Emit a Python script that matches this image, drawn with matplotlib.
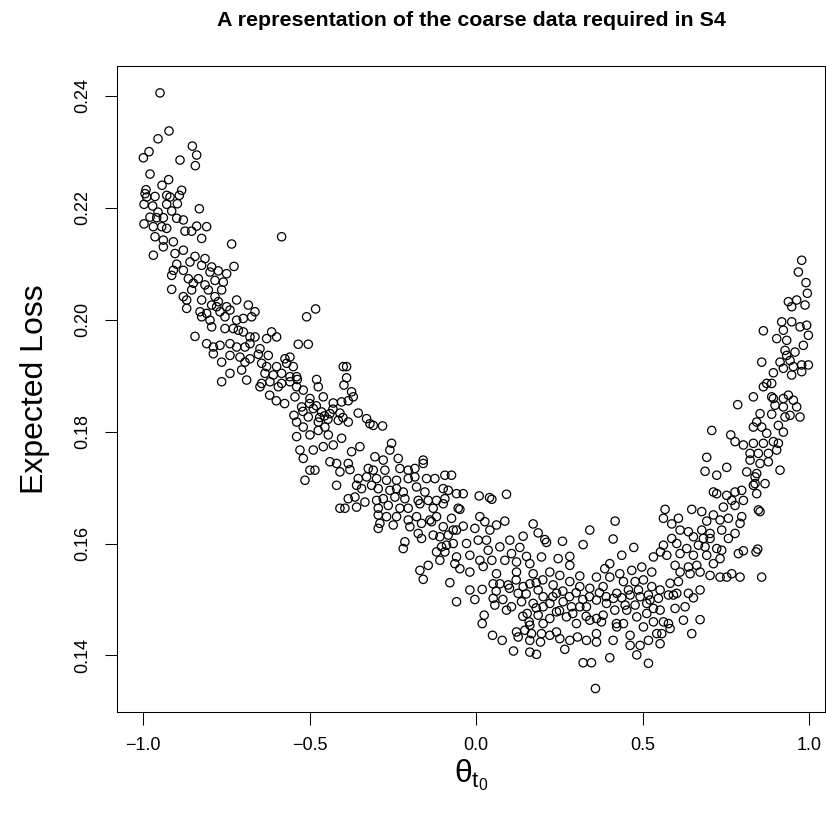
import numpy as np
import matplotlib
matplotlib.use("Agg")
import matplotlib.pyplot as plt

plt.rcParams['font.family'] = ['Liberation Sans', 'DejaVu Sans']
plt.rcParams['mathtext.fontset'] = 'custom'
plt.rcParams['mathtext.rm'] = 'Liberation Sans'
plt.rcParams['mathtext.it'] = 'Liberation Sans'

# (theta_t0, expected loss) pairs, grouped by region of the curve
upper_left = [
    (-0.949, 0.2405), (-0.922, 0.2337), (-0.955, 0.2323), (-0.982, 0.2300), (-0.999, 0.2289),
    (-0.852, 0.2310), (-0.839, 0.2294), (-0.843, 0.2275), (-0.889, 0.2285), (-0.979, 0.2260),
    (-0.923, 0.2250), (-0.943, 0.2240), (-0.884, 0.2231), (-0.991, 0.2232), (-0.994, 0.2225),
    (-0.989, 0.2219), (-0.964, 0.2220), (-0.929, 0.2222), (-0.919, 0.2219), (-0.891, 0.2222),
    (-0.997, 0.2206), (-0.971, 0.2203), (-0.929, 0.2206), (-0.897, 0.2207), (-0.831, 0.2198),
    (-0.955, 0.2192), (-0.914, 0.2194), (-0.979, 0.2183), (-0.959, 0.2182), (-0.939, 0.2182),
    (-0.899, 0.2181), (-0.879, 0.2178), (-0.997, 0.2171), (-0.969, 0.2166), (-0.944, 0.2166),
    (-0.929, 0.2163), (-0.839, 0.2167), (-0.809, 0.2166), (-0.874, 0.2158), (-0.854, 0.2158),
    (-0.584, 0.2148), (-0.964, 0.2148), (-0.824, 0.2145),
    (-0.734, 0.2135), (-0.939, 0.2142), (-0.909, 0.2139), (-0.939, 0.2130), (-0.969, 0.2115),
    (-0.904, 0.2118), (-0.879, 0.2124), (-0.844, 0.2113), (-0.814, 0.2109), (-0.859, 0.2103),
    (-0.899, 0.2099), (-0.824, 0.2097), (-0.794, 0.2094), (-0.727, 0.2095), (-0.909, 0.2088),
    (-0.879, 0.2088), (-0.799, 0.2085), (-0.774, 0.2087), (-0.749, 0.2082), (-0.914, 0.2079),
    (-0.864, 0.2073), (-0.834, 0.2073), (-0.784, 0.2070), (-0.759, 0.2067), (-0.849, 0.2065),
    (-0.814, 0.2062), (-0.914, 0.2054), (-0.854, 0.2053), (-0.804, 0.2053), (-0.764, 0.2053),
    (-0.879, 0.2041), (-0.869, 0.2035), (-0.824, 0.2035), (-0.784, 0.2041), (-0.774, 0.2032),
    (-0.719, 0.2035), (-0.794, 0.2026), (-0.779, 0.2023), (-0.749, 0.2023), (-0.684, 0.2026),
    (-0.869, 0.2020), (-0.829, 0.2014), (-0.809, 0.2011), (-0.769, 0.2014), (-0.739, 0.2017),
    (-0.664, 0.2014), (-0.824, 0.2005), (-0.799, 0.1999), (-0.754, 0.2005), (-0.719, 0.1999),
    (-0.699, 0.2002), (-0.674, 0.2005), (-0.794, 0.1987), (-0.754, 0.1984), (-0.729, 0.1984),
    (-0.714, 0.1981), (-0.699, 0.1978), (-0.679, 0.1969), (-0.664, 0.1969), (-0.629, 0.1966),
    (-0.614, 0.1978), (-0.599, 0.1969), (-0.844, 0.1970), (-0.809, 0.1957), (-0.789, 0.1951),
    (-0.769, 0.1954), (-0.739, 0.1957), (-0.719, 0.1951), (-0.694, 0.1951), (-0.679, 0.1957),
    (-0.649, 0.1948), (-0.789, 0.1939), (-0.739, 0.1936), (-0.709, 0.1933), (-0.679, 0.1930),
    (-0.654, 0.1938), (-0.624, 0.1936), (-0.574, 0.1930), (-0.559, 0.1933),
    (-0.764, 0.1924), (-0.694, 0.1924), (-0.644, 0.1922), (-0.629, 0.1916), (-0.599, 0.1916),
    (-0.569, 0.1922), (-0.549, 0.1916), (-0.704, 0.1910), (-0.739, 0.1904), (-0.634, 0.1904),
    (-0.609, 0.1901), (-0.584, 0.1904), (-0.559, 0.1898), (-0.539, 0.1898), (-0.764, 0.1889),
    (-0.689, 0.1892), (-0.644, 0.1886), (-0.619, 0.1889), (-0.584, 0.1886), (-0.559, 0.1889),
    (-0.649, 0.1880), (-0.594, 0.1880), (-0.539, 0.1880),
    (-0.620, 0.1865), (-0.600, 0.1855), (-0.575, 0.1850),
]

left_slope = [
    (-0.482, 0.2019), (-0.509, 0.2005), (-0.534, 0.1956), (-0.504, 0.1956),
    (-0.399, 0.1916), (-0.389, 0.1916), (-0.537, 0.1893), (-0.479, 0.1893), (-0.389, 0.1896),
    (-0.474, 0.1880), (-0.397, 0.1883), (-0.374, 0.1871), (-0.519, 0.1874), (-0.544, 0.1862),
    (-0.369, 0.1862), (-0.459, 0.1862), (-0.429, 0.1851), (-0.404, 0.1853), (-0.384, 0.1855),
    (-0.499, 0.1859), (-0.524, 0.1844), (-0.489, 0.1841), (-0.464, 0.1835), (-0.439, 0.1832),
    (-0.409, 0.1833), (-0.354, 0.1833), (-0.547, 0.1829), (-0.504, 0.1826), (-0.414, 0.1820),
    (-0.384, 0.1817), (-0.329, 0.1823), (-0.319, 0.1814), (-0.309, 0.1811), (-0.281, 0.1810),
    (-0.539, 0.1817), (-0.474, 0.1817), (-0.519, 0.1808), (-0.454, 0.1808),
    (-0.500, 0.1850), (-0.480, 0.1846), (-0.455, 0.1828), (-0.430, 0.1840), (-0.470, 0.1825),
    (-0.445, 0.1822), (-0.400, 0.1825), (-0.520, 0.1836),
]

middle = [
    (-0.539, 0.1791), (-0.499, 0.1794), (-0.474, 0.1802), (-0.444, 0.1794), (-0.404, 0.1788),
    (-0.529, 0.1767), (-0.489, 0.1767), (-0.459, 0.1773), (-0.429, 0.1776), (-0.374, 0.1764),
    (-0.349, 0.1773), (-0.254, 0.1779), (-0.259, 0.1767), (-0.519, 0.1752), (-0.439, 0.1746),
    (-0.419, 0.1743), (-0.384, 0.1743), (-0.304, 0.1755), (-0.279, 0.1749), (-0.234, 0.1752),
    (-0.159, 0.1749), (-0.484, 0.1731), (-0.499, 0.1731), (-0.409, 0.1728), (-0.379, 0.1732),
    (-0.324, 0.1734), (-0.309, 0.1731), (-0.274, 0.1731), (-0.229, 0.1734), (-0.204, 0.1731),
    (-0.184, 0.1734), (-0.159, 0.1743), (-0.514, 0.1713), (-0.419, 0.1704), (-0.354, 0.1716),
    (-0.329, 0.1719), (-0.299, 0.1716), (-0.269, 0.1713), (-0.239, 0.1713), (-0.204, 0.1716),
    (-0.184, 0.1719), (-0.149, 0.1716), (-0.124, 0.1716), (-0.094, 0.1722), (-0.359, 0.1704),
    (-0.344, 0.1698), (-0.314, 0.1704), (-0.294, 0.1698), (-0.259, 0.1695), (-0.239, 0.1698),
    (-0.219, 0.1692), (-0.179, 0.1701), (-0.154, 0.1692), (-0.099, 0.1698), (-0.084, 0.1695),
    (-0.059, 0.1689), (-0.384, 0.1680), (-0.364, 0.1683), (-0.334, 0.1674), (-0.299, 0.1677),
    (-0.279, 0.1680), (-0.244, 0.1683), (-0.214, 0.1680), (-0.174, 0.1677), (-0.144, 0.1677),
    (-0.119, 0.1677), (-0.094, 0.1680), (-0.409, 0.1663), (-0.394, 0.1663), (-0.359, 0.1665),
    (-0.294, 0.1663), (-0.264, 0.1668), (-0.229, 0.1663), (-0.204, 0.1663), (-0.169, 0.1671),
    (-0.129, 0.1663), (-0.099, 0.1671), (-0.054, 0.1663), (-0.294, 0.1651), (-0.269, 0.1648),
    (-0.239, 0.1648), (-0.204, 0.1642), (-0.179, 0.1648), (-0.139, 0.1642), (-0.119, 0.1648),
    (-0.074, 0.1645), (-0.294, 0.1627), (-0.289, 0.1636), (-0.249, 0.1633), (-0.199, 0.1630),
    (-0.164, 0.1636), (-0.134, 0.1639), (-0.099, 0.1630), (-0.069, 0.1624), (-0.174, 0.1618),
    (-0.164, 0.1609), (-0.129, 0.1615), (-0.109, 0.1612), (-0.084, 0.1615), (-0.059, 0.1624),
    (-0.214, 0.1603), (-0.219, 0.1591), (-0.104, 0.1594), (-0.089, 0.1597), (-0.069, 0.1600),
    (-0.119, 0.1585), (-0.094, 0.1585), (-0.059, 0.1576), (-0.109, 0.1570), (-0.064, 0.1564),
    (-0.169, 0.1552), (-0.144, 0.1561), (-0.159, 0.1536), (-0.079, 0.1530), (-0.074, 0.1722),
]

valley = [
    (0.091, 0.1688), (0.047, 0.1679), (0.040, 0.1682), (0.009, 0.1685), (-0.039, 0.1689),
    (-0.049, 0.1661), (0.011, 0.1648), (0.026, 0.1639), (0.086, 0.1640), (0.171, 0.1635),
    (0.186, 0.1619), (0.206, 0.1607), (0.211, 0.1602), (0.259, 0.1604), (0.321, 0.1598),
    (0.341, 0.1624), (0.417, 0.1640), (0.411, 0.1608), (-0.039, 0.1631),
    (-0.004, 0.1627), (0.041, 0.1624), (0.061, 0.1633), (0.101, 0.1606), (0.141, 0.1613),
    (0.071, 0.1594), (0.131, 0.1593), (0.031, 0.1606), (-0.029, 0.1600), (0.006, 0.1606),
    (-0.019, 0.1579), (0.036, 0.1588), (0.106, 0.1582), (0.151, 0.1577), (0.196, 0.1576),
    (0.246, 0.1573), (0.281, 0.1577), (0.011, 0.1570), (0.047, 0.1570), (0.086, 0.1570),
    (0.121, 0.1567), (0.161, 0.1564), (0.281, 0.1561), (0.401, 0.1564), (0.386, 0.1555),
    (-0.049, 0.1555), (-0.019, 0.1549), (0.021, 0.1559), (0.061, 0.1546), (0.121, 0.1549),
    (0.171, 0.1546), (0.221, 0.1549), (0.251, 0.1543), (0.311, 0.1542), (0.361, 0.1540),
    (0.431, 0.1546),
    (-0.059, 0.1496), (-0.019, 0.1517), (-0.004, 0.1500), (0.018, 0.1518), (0.024, 0.1472),
    (0.018, 0.1457), (0.049, 0.1436), (0.078, 0.1427), (0.112, 0.1408), (0.121, 0.1442),
    (0.126, 0.1433), (0.153, 0.1475), (0.159, 0.1460), (0.161, 0.1454), (0.161, 0.1427),
    (0.161, 0.1406), (0.181, 0.1402), (0.193, 0.1424), (0.166, 0.1439), (0.221, 0.1436),
    (0.251, 0.1430), (0.266, 0.1411), (0.304, 0.1433), (0.331, 0.1427), (0.321, 0.1387),
    (0.346, 0.1387), (0.358, 0.1341), (0.401, 0.1396), (0.411, 0.1427), (0.361, 0.1424),
    (0.281, 0.1427), (0.241, 0.1442), (0.196, 0.1439), (0.146, 0.1445), (0.106, 0.1487),
    (0.091, 0.1481), (0.056, 0.1490), (0.051, 0.1502), (0.051, 0.1528), (0.071, 0.1528),
    (0.096, 0.1526), (0.126, 0.1511), (0.136, 0.1496), (0.161, 0.1528), (0.141, 0.1523),
    (0.186, 0.1517), (0.171, 0.1493), (0.201, 0.1487), (0.221, 0.1493), (0.241, 0.1478),
    (0.221, 0.1466), (0.201, 0.1457), (0.186, 0.1472), (0.261, 0.1496), (0.271, 0.1469),
    (0.286, 0.1487), (0.301, 0.1457), (0.311, 0.1487), (0.331, 0.1487), (0.341, 0.1463),
    (0.361, 0.1466), (0.376, 0.1460), (0.361, 0.1439), (0.381, 0.1472), (0.421, 0.1457),
    (0.231, 0.1526), (0.281, 0.1532), (0.311, 0.1523), (0.341, 0.1520), (0.381, 0.1523),
    (0.401, 0.1540), (0.201, 0.1505), (0.241, 0.1511), (0.361, 0.1499), (0.391, 0.1493),
    (0.416, 0.1481),
    (0.100, 0.1520), (0.120, 0.1535), (0.150, 0.1510), (0.180, 0.1530), (0.200, 0.1535),
    (0.230, 0.1505), (0.260, 0.1515), (0.280, 0.1505), (0.300, 0.1512), (0.320, 0.1500),
    (0.340, 0.1505), (0.370, 0.1512), (0.390, 0.1505), (0.250, 0.1480), (0.290, 0.1475),
    (0.330, 0.1470), (0.180, 0.1485), (0.140, 0.1470), (0.060, 0.1515), (0.080, 0.1500),
]

right_rise = [
    (0.707, 0.1802), (0.764, 0.1794), (0.777, 0.1782), (0.802, 0.1776), (0.832, 0.1779),
    (0.692, 0.1754), (0.752, 0.1736), (0.687, 0.1729), (0.722, 0.1722), (0.812, 0.1728),
    (0.822, 0.1749), (0.822, 0.1761), (0.842, 0.1725), (0.712, 0.1692), (0.722, 0.1689),
    (0.752, 0.1686), (0.777, 0.1692), (0.797, 0.1695), (0.802, 0.1677), (0.767, 0.1677),
    (0.777, 0.1668), (0.742, 0.1665), (0.837, 0.1707), (0.842, 0.1689), (0.847, 0.1660),
    (0.567, 0.1661), (0.647, 0.1661), (0.677, 0.1657), (0.712, 0.1651), (0.562, 0.1645),
    (0.607, 0.1645), (0.587, 0.1635), (0.692, 0.1640), (0.732, 0.1642), (0.757, 0.1645),
    (0.797, 0.1648), (0.792, 0.1636), (0.612, 0.1624), (0.637, 0.1621), (0.677, 0.1624),
    (0.702, 0.1618), (0.737, 0.1624), (0.757, 0.1609), (0.777, 0.1618),
    (0.587, 0.1609), (0.652, 0.1612), (0.682, 0.1609), (0.702, 0.1609), (0.562, 0.1597),
    (0.602, 0.1600), (0.632, 0.1591), (0.667, 0.1597), (0.687, 0.1594), (0.722, 0.1591),
    (0.473, 0.1593), (0.553, 0.1585), (0.572, 0.1579), (0.612, 0.1582), (0.652, 0.1579),
    (0.692, 0.1579), (0.737, 0.1588), (0.787, 0.1582), (0.802, 0.1587), (0.437, 0.1579),
    (0.532, 0.1576), (0.597, 0.1561), (0.637, 0.1558), (0.662, 0.1561), (0.712, 0.1564),
    (0.732, 0.1573), (0.467, 0.1552), (0.497, 0.1558), (0.527, 0.1549), (0.612, 0.1549),
    (0.642, 0.1546), (0.672, 0.1549), (0.702, 0.1543), (0.732, 0.1540), (0.752, 0.1540),
    (0.767, 0.1546), (0.792, 0.1540), (0.442, 0.1532), (0.477, 0.1532), (0.502, 0.1535),
    (0.582, 0.1529), (0.607, 0.1532), (0.672, 0.1517), (0.457, 0.1517), (0.487, 0.1517),
    (0.527, 0.1523), (0.552, 0.1517), (0.602, 0.1511), (0.637, 0.1511), (0.422, 0.1511),
    (0.517, 0.1508), (0.592, 0.1508),
    (0.412, 0.1502), (0.437, 0.1503), (0.462, 0.1508), (0.492, 0.1505), (0.522, 0.1499),
    (0.547, 0.1502), (0.577, 0.1508), (0.627, 0.1487), (0.652, 0.1503), (0.672, 0.1464),
    (0.622, 0.1463), (0.647, 0.1439), (0.597, 0.1484), (0.577, 0.1457), (0.582, 0.1448),
    (0.557, 0.1439), (0.552, 0.1421), (0.517, 0.1427), (0.517, 0.1386), (0.482, 0.1401),
    (0.492, 0.1418), (0.462, 0.1418), (0.462, 0.1436), (0.532, 0.1460), (0.542, 0.1439),
    (0.502, 0.1451), (0.482, 0.1469), (0.452, 0.1481), (0.442, 0.1457), (0.422, 0.1451),
    (0.512, 0.1475), (0.552, 0.1481), (0.562, 0.1460), (0.512, 0.1493), (0.532, 0.1484),
    (0.447, 0.1490), (0.477, 0.1490),
    (0.977, 0.2106), (0.967, 0.2085), (0.990, 0.2066), (0.994, 0.2047), (0.962, 0.2035),
    (0.937, 0.2032), (0.947, 0.2023), (0.987, 0.2026), (0.917, 0.1996), (0.947, 0.1996),
    (0.972, 0.1987), (0.992, 0.1990), (0.862, 0.1980), (0.922, 0.1981), (0.902, 0.1966),
    (0.932, 0.1963), (0.997, 0.1972), (0.982, 0.1954), (0.927, 0.1945), (0.957, 0.1942),
    (0.932, 0.1936), (0.912, 0.1924), (0.942, 0.1927), (0.857, 0.1924), (0.977, 0.1919),
    (0.997, 0.1919), (0.892, 0.1905), (0.922, 0.1913), (0.952, 0.1916), (0.947, 0.1901),
    (0.977, 0.1907), (0.872, 0.1886), (0.887, 0.1886), (0.862, 0.1880), (0.832, 0.1862),
    (0.887, 0.1862), (0.937, 0.1865),
    (0.892, 0.1859), (0.922, 0.1859), (0.952, 0.1856), (0.897, 0.1847), (0.922, 0.1844),
    (0.962, 0.1844), (0.942, 0.1829), (0.972, 0.1826), (0.852, 0.1832), (0.887, 0.1831),
    (0.927, 0.1826), (0.842, 0.1817), (0.832, 0.1808), (0.857, 0.1808), (0.907, 0.1811),
    (0.922, 0.1799), (0.872, 0.1797), (0.785, 0.1848), (0.862, 0.1779), (0.892, 0.1782),
    (0.907, 0.1779), (0.847, 0.1761), (0.902, 0.1767), (0.877, 0.1761), (0.852, 0.1743),
    (0.877, 0.1746), (0.912, 0.1731), (0.837, 0.1719), (0.867, 0.1707), (0.832, 0.1704),
    (0.852, 0.1657), (0.857, 0.1540), (0.840, 0.1585), (0.845, 0.1590),
]

x_ticks = [-1.0, -0.5, 0.0, 0.5, 1.0]
y_ticks = [0.14, 0.16, 0.18, 0.20, 0.22, 0.24]

points = np.array(upper_left + left_slope + middle + valley + right_rise)
theta, loss = points[:, 0], points[:, 1]

fig = plt.figure(figsize=(8.26, 8.14), dpi=100)
ax = fig.add_axes([0.1413, 0.1253, 0.8575, 0.7936])

ax.scatter(theta, loss, s=36, facecolors='none', edgecolors='black', linewidths=0.9)

ax.set_xlim(-1.079, 1.047)
ax.set_ylim(0.1299, 0.2453)

ax.set_xticks(x_ticks)
ax.set_xticklabels([f"{t:.1f}".replace('-', '\u2212') for t in x_ticks])
ax.set_yticks(y_ticks)
ax.set_yticklabels([f"{t:.2f}" for t in y_ticks], rotation=90, va='center')

ax.tick_params(direction='out', length=9, width=0.75, labelsize=13, color='black', pad=9)
for sp in ax.spines.values():
    sp.set_linewidth(0.75)

ax.set_ylabel('Expected Loss', fontsize=23, va='center', ha='center')
ax.yaxis.set_label_coords(-0.1153, 0.5)
ax.set_xlabel(r'$\theta_{t_0}$', fontsize=23, va='center')
ax.xaxis.set_label_coords(0.5, -0.0975)

fig.text(0.5702, 1 - 20 / 814, 'A representation of the coarse data required in S4',
         ha='center', va='center', fontsize=15.4, fontweight='bold')

fig.savefig('out.png', dpi=100)
